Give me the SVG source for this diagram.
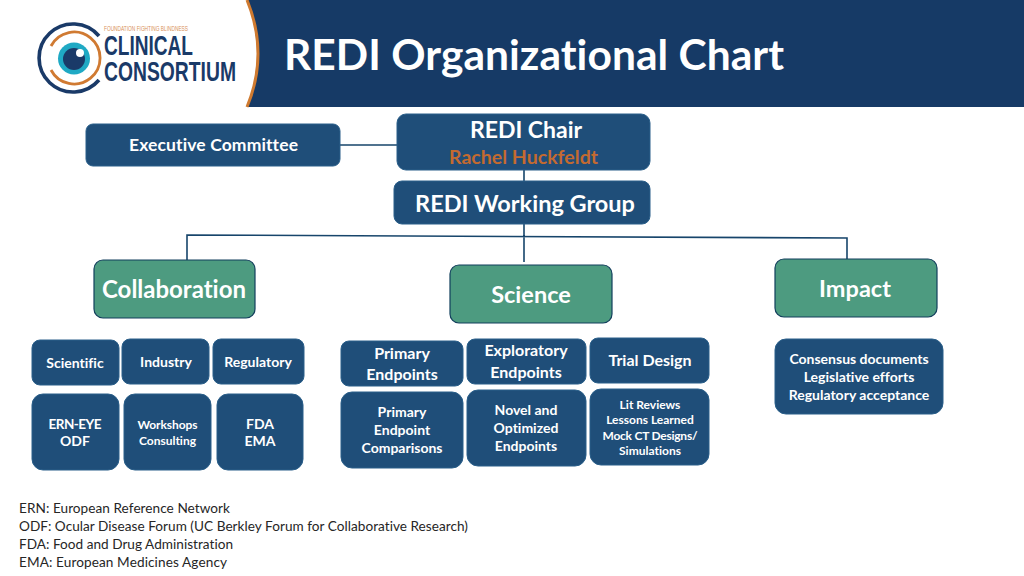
<svg xmlns="http://www.w3.org/2000/svg" width="1024" height="576" viewBox="0 0 1024 576">
<style>
text{font-family:Lato,"Open Sans","Liberation Sans",sans-serif;font-weight:700;fill:#fff;text-anchor:middle;font-variant-ligatures:none}
.b{fill:#1f4e79;stroke:#2a5f8a;stroke-width:1}
.g{fill:#4d9b80;stroke:#123f5c;stroke-width:1.2}
.c{fill:none;stroke:#17456b;stroke-width:1.6}
.f{font-weight:400;fill:#262626;text-anchor:start;font-size:13.6px}
.logo{fill:#1a3a68;font-family:"Liberation Sans",sans-serif;text-anchor:start}
</style>
<rect width="1024" height="576" fill="#fff"/>
<g id="header">
<path d="M247 0H1024V107H247Q269 54 247 0Z" fill="#163a66"/>
<path d="M247 0Q269 54 247 107" fill="none" stroke="#cf7a30" stroke-width="3"/>
<text x="534" y="70" textLength="500" style="font-size:42.5px">REDI Organizational Chart</text>
</g>
<g id="logo">
<path d="M99 36A34 34 0 1 0 99 80" fill="none" stroke="#1a3a68" stroke-width="3.6"/>
<path d="M51 46A26 26 0 1 1 51 70" fill="none" stroke="#d07a32" stroke-width="2.8"/>
<circle cx="74" cy="58.5" r="16" fill="#1fa9c4"/>
<circle cx="74" cy="59" r="11" fill="#1a3a68"/>
<circle cx="80" cy="53" r="4" fill="#fff"/>
<text class="logo" x="104" y="31" textLength="84" lengthAdjust="spacingAndGlyphs" style="font-size:6.500px;font-weight:400;fill:#d9915a">FOUNDATION FIGHTING BLINDNESS</text>
<text class="logo" transform="translate(104 55) scale(1 1.3)" textLength="89" lengthAdjust="spacingAndGlyphs" style="font-size:21.500px">CLINICAL</text>
<text class="logo" transform="translate(104 81) scale(1 1.3)" textLength="132" lengthAdjust="spacingAndGlyphs" style="font-size:21.500px">CONSORTIUM</text>
</g>
<g id="connectors">
<path class="c" d="M340 145H397M524 170V182M524 224V262M187 260V235L847 238V259"/>
</g>
<g id="exec"><rect class="b" x="86" y="124" width="254" height="42" rx="7"/><text x="213.500" y="151" textLength="169" style="font-size:17.5px">Executive Committee</text></g>
<g id="chair"><rect class="b" x="397" y="114" width="253" height="56" rx="9"/><text x="526" y="138" style="font-size:23px">REDI Chair</text><text x="523.500" y="164" textLength="149" style="font-size:19.500px;fill:#c46a30">Rachel Huckfeldt</text></g>
<g id="wg"><rect class="b" x="394" y="181" width="256" height="43" rx="8"/><text x="525" y="212" style="font-size:23.5px">REDI Working Group</text></g>
<g id="collab"><rect class="g" x="94" y="260" width="161" height="58" rx="9"/><text x="174" y="298" textLength="144" style="font-size:24px">Collaboration</text></g>
<g id="science"><rect class="g" x="450" y="265" width="162" height="58" rx="9"/><text x="531" y="303" style="font-size:23.5px">Science</text></g>
<g id="impact"><rect class="g" x="775" y="259" width="162" height="58" rx="9"/><text x="855" y="297" style="font-size:23.5px">Impact</text></g>
<g id="scientific"><rect class="b" x="32" y="340" width="87" height="45" rx="8"/><text x="75" y="368" style="font-size:14px">Scientific</text></g>
<g id="industry"><rect class="b" x="122" y="339" width="87" height="45" rx="8"/><text x="166" y="367" style="font-size:14px">Industry</text></g>
<g id="regulatory"><rect class="b" x="213" y="339" width="91" height="45" rx="8"/><text x="258" y="367" style="font-size:14px">Regulatory</text></g>
<g id="ern"><rect class="b" x="32" y="394" width="87" height="76" rx="11"/><text x="75" y="429" textLength="53" style="font-size:13.5px">ERN-EYE</text><text x="75" y="446" style="font-size:14px">ODF</text></g>
<g id="workshops"><rect class="b" x="124" y="394" width="87" height="76" rx="11"/><text x="167.500" y="429" textLength="60" style="font-size:12px">Workshops</text><text x="167.500" y="445" textLength="57" style="font-size:12px">Consulting</text></g>
<g id="fda"><rect class="b" x="217" y="394" width="86" height="76" rx="11"/><text x="260" y="429" style="font-size:14px">FDA</text><text x="260" y="446" style="font-size:14px">EMA</text></g>
<g id="primary"><rect class="b" x="341" y="341" width="122" height="45" rx="8"/><text x="402" y="359" style="font-size:16px">Primary</text><text x="402" y="380" style="font-size:16px">Endpoints</text></g>
<g id="exploratory"><rect class="b" x="467" y="339" width="119" height="45" rx="8"/><text x="526" y="356" style="font-size:16px">Exploratory</text><text x="526" y="378" style="font-size:16px">Endpoints</text></g>
<g id="trial"><rect class="b" x="590" y="338" width="119" height="45" rx="8"/><text x="650" y="366" style="font-size:16px">Trial Design</text></g>
<g id="comparisons"><rect class="b" x="341" y="392" width="122" height="76" rx="11"/><text x="402" y="417" style="font-size:14px">Primary</text><text x="402" y="435" style="font-size:14px">Endpoint</text><text x="402" y="453" style="font-size:14px">Comparisons</text></g>
<g id="novel"><rect class="b" x="467" y="390" width="119" height="76" rx="11"/><text x="526" y="415" style="font-size:14px">Novel and</text><text x="526" y="433" style="font-size:14px">Optimized</text><text x="526" y="451" style="font-size:14px">Endpoints</text></g>
<g id="lit"><rect class="b" x="590" y="389" width="119" height="76" rx="11"/><text x="650" y="409" style="font-size:12px">Lit Reviews</text><text x="650" y="424" style="font-size:12px">Lessons Learned</text><text x="650" y="440" textLength="95" style="font-size:12px">Mock CT Designs/</text><text x="650" y="455" style="font-size:12px">Simulations</text></g>
<g id="consensus"><rect class="b" x="775" y="339" width="168" height="75" rx="11"/><text x="859" y="364" style="font-size:14px">Consensus documents</text><text x="859" y="382" style="font-size:14px">Legislative efforts</text><text x="859" y="400" style="font-size:14px">Regulatory acceptance</text></g>
<g id="legend">
<text class="f" x="19" y="513" textLength="211">ERN: European Reference Network</text>
<text class="f" x="19" y="531" textLength="449">ODF: Ocular Disease Forum (UC Berkley Forum for Collaborative Research)</text>
<text class="f" x="19" y="549" textLength="214">FDA: Food and Drug Administration</text>
<text class="f" x="19" y="567" textLength="208">EMA: European Medicines Agency</text>
</g>
</svg>
